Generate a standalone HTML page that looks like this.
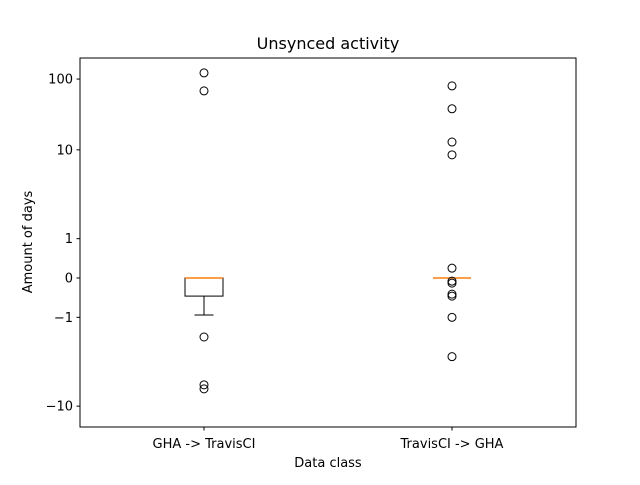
<!DOCTYPE html>
<html><head><meta charset="utf-8"><style>
body{margin:0;background:#fff;font-family:"Liberation Sans","DejaVu Sans",sans-serif}
svg text{font-family:"DejaVu Sans","Liberation Sans",sans-serif}
</style></head><body>
<svg id="chart" width="640" height="480">
<rect width="640" height="480" fill="#fff"/>
<g id="marks"></g>
<rect x="80" y="58" width="496" height="369" fill="none" stroke="#000" stroke-width="1"/>
<g id="axes"></g>
<text x="328" y="49" text-anchor="middle" font-size="16">Unsynced activity</text>
<text x="328" y="467" text-anchor="middle" font-size="13">Data class</text>
<text x="32" y="242" text-anchor="middle" font-size="13" transform="rotate(-90 32 242)">Amount of days</text>
</svg>
<script>
const categories=["GHA -> TravisCI","TravisCI -> GHA"];
const q1=[-0.46,0];
const medians=[0,0];
const q3=[0,0];
const whiskLow=[-0.94,0];
const whiskHigh=[0,0];
const fliersA=[122,68,-1.5,-5.0,-5.7];
const fliersB=[80,38,12.9,8.5,0.25,-0.08,-0.13,-0.41,-0.46,-1.0,-2.0];
const fliers=[fliersA,fliersB];
const yTicks=[100,10,1,0,-1,-10];
const yTickLabels=["100","10","1","0","\u22121","\u221210"];

const NS="http://www.w3.org/2000/svg";
const T=2,A=1/(1-0.1),K=35.4,Y0=278;
function sym(v){const a=Math.abs(v);if(a<=T)return v*A;return Math.sign(v)*T*(A+Math.log10(a/T));}
function y(v){return Y0-K*sym(v);}
function x(i){return 204+i*248;}
function mk(tag,attrs,parent){const e=document.createElementNS(NS,tag);for(const k in attrs)e.setAttribute(k,attrs[k]);parent.appendChild(e);return e;}
const marks=document.getElementById('marks'),axes=document.getElementById('axes');
categories.forEach((c,i)=>{
  const cx=x(i);
  const g=mk('g',{},marks);
  
  
  mk('line',{x1:cx,x2:cx,y1:y(q1[i]),y2:y(whiskLow[i]),stroke:'#000'},g);
  mk('line',{x1:cx,x2:cx,y1:y(q3[i]),y2:y(whiskHigh[i]),stroke:'#000'},g);
  mk('line',{x1:cx-9.5,x2:cx+9.5,y1:y(whiskLow[i]),y2:y(whiskLow[i]),stroke:'#000'},g);
  mk('line',{x1:cx-9.5,x2:cx+9.5,y1:y(whiskHigh[i]),y2:y(whiskHigh[i]),stroke:'#000'},g);
  mk('rect',{x:cx-19,y:y(q3[i]),width:38,height:Math.max(0,y(q1[i])-y(q3[i])),fill:'none',stroke:'#000'},g);
  mk('line',{x1:cx-19,x2:cx+19,y1:y(medians[i]),y2:y(medians[i]),stroke:'#ff7f0e','stroke-width':1.5},g);
  fliers[i].forEach(v=>{
    const p=mk('circle',{cx:cx,cy:y(v),r:4,fill:'none',stroke:'#000'},g);
    
    
  });
  mk('line',{x1:cx,x2:cx,y1:427,y2:430.5,stroke:'#000'},axes);
  const t=mk('text',{x:cx,y:448,'text-anchor':'middle','font-size':13},axes);
  t.textContent=c;
  
  
});
yTicks.forEach((v,i)=>{
  const yy=y(v);
  mk('line',{x1:76.5,x2:80,y1:yy,y2:yy,stroke:'#000'},axes);
  const t=mk('text',{x:73,y:yy+4.5,'text-anchor':'end','font-size':13},axes);
  t.textContent=yTickLabels[i];
  
  
});
</script>
</body></html>
